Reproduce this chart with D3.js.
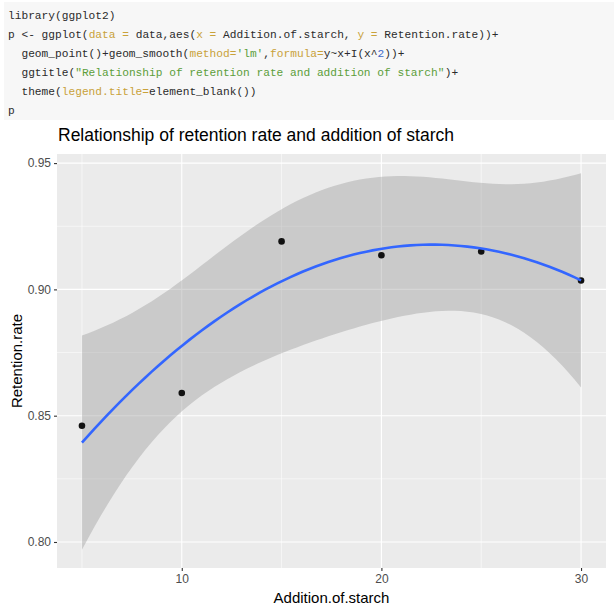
<!DOCTYPE html>
<html>
<head>
<meta charset="utf-8">
<script src="https://cdn.jsdelivr.net/npm/d3@7"></script>
<style>
  body { margin: 0; background: #fff; }
  svg { display: block; }
</style>
</head>
<body>
<div id="visContainer"></div>
<script>
// data
const starch = [5, 10, 15, 20, 25, 30];
const retention = [0.846, 0.859, 0.919, 0.9135, 0.915, 0.9035];
const xTicks = [10, 20, 30];
const yTicks = [0.80, 0.85, 0.90, 0.95];

// the R code shown above the plot, as [text, colour-kind] segments
const codeLines = [
  [["library(ggplot2)", "c"]],
  [["p <- ggplot(", "c"], ["data =", "a"], [" data,aes(", "c"], ["x =", "a"], [" Addition.of.starch, ", "c"], ["y =", "a"], [" Retention.rate))+", "c"]],
  [["  geom_point()+geom_smooth(", "c"], ["method=", "a"], ["'lm'", "s"], [",", "c"], ["formula=", "a"], ["y~x+I(x^", "c"], ["2", "n"], ["))+", "c"]],
  [["  ggtitle(", "c"], ["\"Relationship of retention rate and addition of starch\"", "s"], [")+", "c"]],
  [["  theme(", "c"], ["legend.title=", "a"], ["element_blank())", "c"]],
  [["p", "c"]]
];
const codeColor = { c: "#2b2b2b", a: "#c9a23a", s: "#5c9e3a", n: "#4169c8" };

// quadratic least squares fit + 95% confidence band (like geom_smooth lm)
function fitQuadratic(xs, ys) {
  const n = xs.length;
  const X = xs.map(x => [1, x, x * x]);
  const XtX = [[0,0,0],[0,0,0],[0,0,0]], Xty = [0,0,0];
  for (let i = 0; i < n; i++) {
    for (let a = 0; a < 3; a++) {
      Xty[a] += X[i][a] * ys[i];
      for (let b = 0; b < 3; b++) XtX[a][b] += X[i][a] * X[i][b];
    }
  }
  const inv = invert3(XtX);
  const beta = [0,1,2].map(a => d3.sum([0,1,2], b => inv[a][b] * Xty[b]));
  const pred = x => beta[0] + beta[1] * x + beta[2] * x * x;
  const rss = d3.sum(xs, (x, i) => (ys[i] - pred(x)) ** 2);
  const s2 = rss / (n - 3);
  const t = 3.182446; // qt(0.975, 3)
  const se = x => {
    const v = [1, x, x * x];
    let q = 0;
    for (let a = 0; a < 3; a++) for (let b = 0; b < 3; b++) q += v[a] * inv[a][b] * v[b];
    return Math.sqrt(s2 * q);
  };
  return { pred, se, t };
}

function invert3(m) {
  const [a, b, c] = m[0], [d, e, f] = m[1], [g, h, i] = m[2];
  const A = e*i - f*h, B = -(d*i - f*g), C = d*h - e*g;
  const det = a*A + b*B + c*C;
  return [
    [A/det, -(b*i - c*h)/det, (b*f - c*e)/det],
    [B/det, (a*i - c*g)/det, -(a*f - c*d)/det],
    [C/det, -(a*h - b*g)/det, (a*e - b*d)/det]
  ];
}

function render() {
  const width = 614, height = 609;
  const svg = d3.select("#visContainer").append("svg")
    .attr("width", width).attr("height", height);

  // code block
  svg.append("rect").attr("x", 4).attr("y", 2).attr("width", 610).attr("height", 118)
    .attr("fill", "#f7f7f7");
  const charW = 6.72;
  const code = svg.append("g")
    .style("font-family", "'Liberation Mono', monospace")
    .style("font-size", "11.2px");
  codeLines.forEach((segs, li) => {
    let col = 0;
    const txt = code.append("text").attr("y", 18.5 + li * 19.1);
    segs.forEach(([s, k]) => {
      txt.append("tspan").attr("x", 8 + col * charW).attr("fill", codeColor[k])
        .attr("xml:space", "preserve").style("white-space", "pre").text(s);
      col += s.length;
    });
  });

  // plot panel
  const panel = { left: 57, right: 606, top: 154, bottom: 568 };
  const x = d3.scaleLinear().domain([3.75, 31.25]).range([panel.left, panel.right]);
  const y = d3.scaleLinear().domain([0.7897, 0.9536]).range([panel.bottom, panel.top]);

  svg.append("rect").attr("x", panel.left).attr("y", panel.top)
    .attr("width", panel.right - panel.left).attr("height", panel.bottom - panel.top)
    .attr("fill", "#ebebeb");

  const grid = svg.append("g");
  const xMinor = [5, 15, 25], yMinor = [0.825, 0.875, 0.925];
  grid.selectAll(".xmin").data(xMinor).join("line").attr("class", "xmin")
    .attr("x1", d => x(d)).attr("x2", d => x(d)).attr("y1", panel.top).attr("y2", panel.bottom)
    .attr("stroke", "#fff").attr("stroke-width", 0.55);
  grid.selectAll(".ymin").data(yMinor).join("line").attr("class", "ymin")
    .attr("y1", d => y(d)).attr("y2", d => y(d)).attr("x1", panel.left).attr("x2", panel.right)
    .attr("stroke", "#fff").attr("stroke-width", 0.55);
  grid.selectAll(".xmaj").data(xTicks).join("line").attr("class", "xmaj")
    .attr("x1", d => x(d)).attr("x2", d => x(d)).attr("y1", panel.top).attr("y2", panel.bottom)
    .attr("stroke", "#fff").attr("stroke-width", 1.1);
  grid.selectAll(".ymaj").data(yTicks).join("line").attr("class", "ymaj")
    .attr("y1", d => y(d)).attr("y2", d => y(d)).attr("x1", panel.left).attr("x2", panel.right)
    .attr("stroke", "#fff").attr("stroke-width", 1.1);

  // smooth
  const fit = fitQuadratic(starch, retention);
  const xs = d3.range(80).map(i => 5 + i * 25 / 79);
  const band = xs.map(v => ({ x: v, m: fit.pred(v), lo: fit.pred(v) - fit.t * fit.se(v), hi: fit.pred(v) + fit.t * fit.se(v) }));

  svg.append("path").datum(band)
    .attr("d", d3.area().x(d => x(d.x)).y0(d => y(d.lo)).y1(d => y(d.hi)))
    .attr("fill", "#999999").attr("fill-opacity", 0.4);

  svg.selectAll(".pt").data(starch).join("circle").attr("class", "pt")
    .attr("cx", d => x(d)).attr("cy", (d, i) => y(retention[i])).attr("r", 3.3)
    .attr("fill", "#111");

  svg.append("path").datum(band)
    .attr("d", d3.line().x(d => x(d.x)).y(d => y(d.m)))
    .attr("fill", "none").attr("stroke", "#3366ff").attr("stroke-width", 2.6);

  // axes
  const xAxis = svg.append("g").attr("transform", `translate(0,${panel.bottom})`)
    .call(d3.axisBottom(x).tickValues(xTicks).tickSize(3).tickPadding(3).tickFormat(d3.format("d")));
  const yAxis = svg.append("g").attr("transform", `translate(${panel.left},0)`)
    .call(d3.axisLeft(y).tickValues(yTicks).tickSize(3).tickPadding(3).tickFormat(d3.format(".2f")));
  [xAxis, yAxis].forEach(ax => {
    ax.select(".domain").remove();
    ax.selectAll(".tick line").attr("stroke", "#333").attr("stroke-width", 1.1);
    ax.selectAll("text").attr("fill", "#4d4d4d")
      .style("font-family", "'Liberation Sans', Arial, sans-serif").style("font-size", "12px");
  });

  const font = "'Liberation Sans', Arial, sans-serif";
  svg.append("text").attr("x", panel.left + 1).attr("y", 141)
    .style("font-family", font).style("font-size", "17.5px").attr("fill", "#000")
    .text("Relationship of retention rate and addition of starch");
  svg.append("text").attr("x", (panel.left + panel.right) / 2).attr("y", 603)
    .attr("text-anchor", "middle").style("font-family", font).style("font-size", "15px")
    .attr("fill", "#000").text("Addition.of.starch");
  svg.append("text").attr("transform", `translate(22,${(panel.top + panel.bottom) / 2}) rotate(-90)`)
    .attr("text-anchor", "middle").style("font-family", font).style("font-size", "15px")
    .attr("fill", "#000").text("Retention.rate");
}

document.addEventListener("DOMContentLoaded", function () {
  render();
});
</script>
</body>
</html>
